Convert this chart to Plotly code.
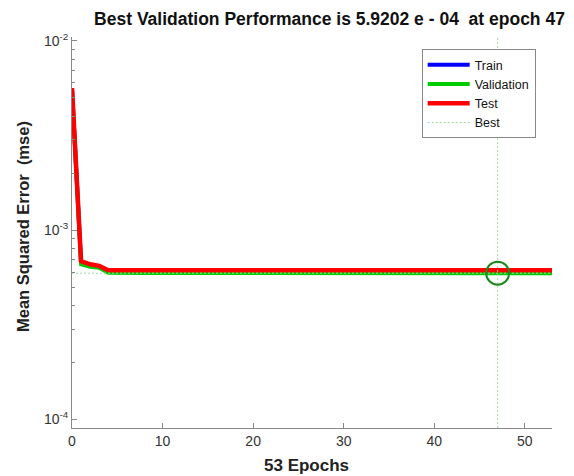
import plotly.graph_objects as go

epochs = list(range(0, 54))
train = [5.60e-3, 6.75e-4, 6.50e-4, 6.38e-4, 6.05e-4] + [
    6.02e-4, 6.02e-4, 6.02e-4, 6.02e-4, 6.02e-4, 6.02e-4, 6.02e-4, 6.02e-4, 6.02e-4, 6.02e-4,
    6.02e-4, 6.02e-4, 6.02e-4, 6.02e-4, 6.02e-4, 6.02e-4, 6.02e-4, 6.02e-4, 6.02e-4, 6.02e-4,
    6.02e-4, 6.02e-4, 6.02e-4, 6.02e-4, 6.02e-4, 6.02e-4, 6.02e-4, 6.02e-4, 6.02e-4, 6.02e-4,
    6.02e-4, 6.02e-4, 6.02e-4, 6.02e-4, 6.02e-4, 6.02e-4, 6.02e-4, 6.02e-4, 6.02e-4, 6.02e-4,
    6.02e-4, 6.02e-4, 6.02e-4, 6.02e-4, 6.02e-4, 6.02e-4, 6.02e-4, 6.02e-4, 6.02e-4]
validation = [5.55e-3, 6.60e-4, 6.40e-4, 6.32e-4, 5.95e-4] + [
    5.93e-4, 5.93e-4, 5.93e-4, 5.93e-4, 5.93e-4, 5.93e-4, 5.93e-4, 5.93e-4, 5.93e-4, 5.93e-4,
    5.93e-4, 5.93e-4, 5.93e-4, 5.93e-4, 5.93e-4, 5.93e-4, 5.93e-4, 5.93e-4, 5.93e-4, 5.93e-4,
    5.93e-4, 5.93e-4, 5.93e-4, 5.93e-4, 5.93e-4, 5.93e-4, 5.93e-4, 5.93e-4, 5.93e-4, 5.93e-4,
    5.93e-4, 5.93e-4, 5.93e-4, 5.93e-4, 5.93e-4, 5.93e-4, 5.93e-4, 5.93e-4, 5.92e-4, 5.92e-4,
    5.92e-4, 5.92e-4, 5.92e-4, 5.92e-4, 5.92e-4, 5.92e-4, 5.92e-4, 5.92e-4, 5.92e-4]
test = [5.64e-3, 6.85e-4, 6.60e-4, 6.47e-4, 6.14e-4] + [
    6.14e-4, 6.14e-4, 6.14e-4, 6.14e-4, 6.14e-4, 6.14e-4, 6.14e-4, 6.14e-4, 6.14e-4, 6.14e-4,
    6.14e-4, 6.14e-4, 6.14e-4, 6.14e-4, 6.14e-4, 6.14e-4, 6.14e-4, 6.14e-4, 6.14e-4, 6.14e-4,
    6.14e-4, 6.14e-4, 6.14e-4, 6.14e-4, 6.14e-4, 6.14e-4, 6.14e-4, 6.14e-4, 6.14e-4, 6.14e-4,
    6.14e-4, 6.14e-4, 6.14e-4, 6.14e-4, 6.14e-4, 6.14e-4, 6.14e-4, 6.14e-4, 6.14e-4, 6.14e-4,
    6.14e-4, 6.14e-4, 6.14e-4, 6.14e-4, 6.14e-4, 6.14e-4, 6.14e-4, 6.14e-4, 6.14e-4]
best_epoch = 47
best_perf = 5.9202e-4

x_range = [0, 53]
y_range_log = [-4.046, -1.979]
x_tickvals = [0, 10, 20, 30, 40, 50]
y_tickvals = [1e-4, 1e-3, 1e-2]
y_ticktext = ["10<sup>-4</sup>", "10<sup>-3</sup>", "10<sup>-2</sup>"]
y_minor = [m * 10 ** e for e in (-4, -3, -2) for m in range(2, 10)]

title_text = "<b>Best Validation Performance is 5.9202 e - 04  at epoch 47</b>"
x_title = "<b>53 Epochs</b>"
y_title = "<b>Mean Squared Error  (mse)</b>"

FONT = "Liberation Sans, Arial, sans-serif"
best_color = "#9fd89f"

fig = go.Figure()
fig.add_trace(go.Scatter(x=epochs, y=train, mode="lines", name="Train",
                         line=dict(color="#0000ff", width=4)))
fig.add_trace(go.Scatter(x=epochs, y=validation, mode="lines", name="Validation",
                         line=dict(color="#00cc00", width=4)))
fig.add_trace(go.Scatter(x=epochs, y=test, mode="lines", name="Test",
                         line=dict(color="#ff0000", width=4.5)))
fig.add_trace(go.Scatter(x=[best_epoch, best_epoch], y=[10 ** y_range_log[0], 10 ** y_range_log[1]],
                         mode="lines", name="Best",
                         line=dict(color=best_color, width=1, dash="2px,2px")))
fig.add_trace(go.Scatter(x=x_range, y=[best_perf, best_perf], mode="lines",
                         showlegend=False, line=dict(color=best_color, width=1, dash="2px,2px")))
fig.add_trace(go.Scatter(x=[best_epoch], y=[best_perf], mode="markers", showlegend=False,
                         marker=dict(symbol="circle-open", size=23,
                                     color="#1a8a1a", line=dict(width=2, color="#1a8a1a"))))

fig.update_layout(
    width=574, height=476,
    margin=dict(l=72, r=22, t=37, b=48, autoexpand=False),
    paper_bgcolor="white", plot_bgcolor="white",
    font=dict(family=FONT, color="#333333", size=14),
    title=dict(text=title_text, x=329.5 / 574, xanchor="center", xref="container",
               y=1 - 19 / 476, yanchor="middle",
               font=dict(family=FONT, size=17.5, color="#111111")),
    legend=dict(x=0.7285, y=0.969, xanchor="left", yanchor="top",
                bgcolor="white", bordercolor="#888888", borderwidth=1,
                font=dict(family=FONT, size=12.5, color="#111111"),
                itemwidth=42, tracegroupgap=0),
    showlegend=True,
    annotations=[
        dict(text=y_title, xref="paper", yref="paper", x=(23 - 72) / 480, y=1 - (227 - 37) / 391,
             xanchor="center", yanchor="middle", textangle=-90, showarrow=False,
             font=dict(family=FONT, size=16.5, color="#222222")),
        dict(text=x_title, xref="paper", yref="paper", x=(306.5 - 72) / 480, y=1 - (465 - 37) / 391,
             xanchor="center", yanchor="middle", showarrow=False,
             font=dict(family=FONT, size=17, color="#222222")),
    ],
)
fig.update_xaxes(range=x_range, tickvals=x_tickvals, ticks="inside", ticklen=5,
                 tickcolor="#888888", showline=True, linecolor="#888888", linewidth=1,
                 showgrid=False, zeroline=False, automargin=False,
                 tickfont=dict(family=FONT, size=14, color="#333333"))
fig.update_yaxes(type="log", range=y_range_log, tickvals=y_tickvals, ticktext=y_ticktext,
                 ticks="inside", ticklen=5, tickcolor="#888888",
                 minor=dict(tickvals=y_minor, ticks="inside", ticklen=3, tickcolor="#888888",
                            showgrid=False),
                 showline=True, linecolor="#888888", linewidth=1,
                 showgrid=False, zeroline=False, automargin=False,
                 tickfont=dict(family=FONT, size=14, color="#333333"))

fig.write_html("out.html", config={"displayModeBar": False},
               post_script="document.body.style.margin='0';document.body.style.overflow='hidden';")
